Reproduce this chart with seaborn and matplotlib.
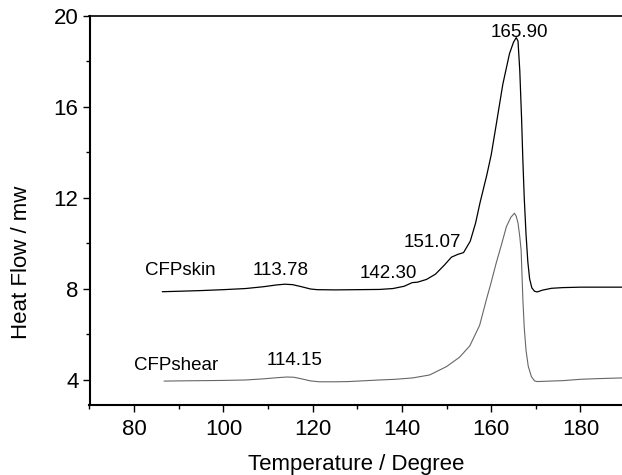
import numpy as np
import pandas as pd
import matplotlib
matplotlib.use("Agg")
import matplotlib.pyplot as plt
from matplotlib.ticker import MultipleLocator
import seaborn as sns

# ---- data ----
skin_t = [86.3, 90, 95, 100, 105, 109, 112, 113.8, 115.5, 117.5, 119.5, 121, 125, 130, 135, 138,
          140.5, 142.3, 143.5, 145.5, 147.5, 149.5, 151.1, 152.5, 153.8, 155.3, 156.5, 157.5, 159,
          160, 161.1, 162.6, 164.1, 165.0, 165.6, 166.0, 166.4, 166.8, 167.1, 167.4, 167.8, 168.2,
          168.6, 169.1, 169.7, 170.3, 171.5, 173.5, 176, 180, 184, 189.3]
skin_f = [7.88, 7.90, 7.93, 7.97, 8.02, 8.10, 8.18, 8.21, 8.19, 8.10, 8.00, 7.97, 7.96, 7.97, 7.98, 8.02,
          8.12, 8.28, 8.30, 8.42, 8.65, 9.05, 9.40, 9.52, 9.60, 10.1, 10.9, 11.8, 13.0,
          13.9, 15.2, 17.0, 18.35, 18.85, 19.05, 18.9, 17.6, 15.5, 13.6, 12.0, 10.4, 9.2,
          8.45, 8.05, 7.90, 7.87, 7.95, 8.03, 8.06, 8.08, 8.08, 8.08]

shear_t = [86.7, 90, 95, 100, 105, 109, 112, 114.2, 115.8, 117.5, 119.5, 121.5, 125, 128, 131, 135,
           138.5, 142.4, 146.2, 150, 152.9, 155.2, 157.4, 158.9, 160, 161.1, 162.3, 163.4, 164.4,
           165.2, 165.6, 166.0, 166.4, 166.7, 166.9, 167.1, 167.4, 167.8, 168.3, 169.0, 169.7,
           170.3, 173, 176, 180, 184, 189.3]
shear_f = [3.95, 3.96, 3.97, 3.98, 4.00, 4.05, 4.10, 4.13, 4.12, 4.05, 3.96, 3.92, 3.92, 3.93, 3.96, 4.00,
           4.03, 4.09, 4.22, 4.59, 5.00, 5.50, 6.40, 7.52, 8.30, 9.13, 9.95, 10.74, 11.15,
           11.33, 11.2, 10.9, 10.3, 9.7, 8.6, 7.5, 6.3, 5.3, 4.6, 4.15, 3.96,
           3.93, 3.95, 3.97, 4.03, 4.06, 4.09]

curve_labels = ["CFPskin", "CFPshear"]
peak_labels = ["113.78", "142.30", "151.07", "165.90", "114.15"]
peak_pos_x = [112.8, 137.0, 146.9, 166.4, 115.9]
peak_pos_y = [8.62, 8.48, 9.85, 19.08, 4.66]
curve_label_x = [90.3, 89.5]
curve_label_y = [8.62, 4.44]

x_ticks = [80, 100, 120, 140, 160, 180]
y_ticks = [4, 8, 12, 16, 20]

# ---- plot ----
sns.set_theme(style="ticks")
plt.rcParams["font.family"] = ["Liberation Sans", "DejaVu Sans"]

fig = plt.figure(figsize=(6.22, 4.75), dpi=100)
ax = fig.add_axes([89.5 / 622, 1 - 405 / 475, (622 - 89.5) / 622, (405 - 16) / 475])

df_skin = pd.DataFrame({"T": skin_t, "F": skin_f})
df_shear = pd.DataFrame({"T": shear_t, "F": shear_f})
sns.lineplot(data=df_skin, x="T", y="F", ax=ax, color="black", lw=0.9,
             sort=False, estimator=None)
sns.lineplot(data=df_shear, x="T", y="F", ax=ax, color="#666666", lw=0.8,
             sort=False, estimator=None)

ax.set_xlim(70, 189.3)
ax.set_ylim(2.9, 20)
ax.set_xticks(x_ticks)
ax.set_yticks(y_ticks)
ax.xaxis.set_minor_locator(MultipleLocator(10))
ax.yaxis.set_minor_locator(MultipleLocator(2))
ax.tick_params(which="major", direction="out", length=5, width=1.0, labelsize=16,
               color="black", labelcolor="black", pad=3)
ax.tick_params(which="minor", direction="out", length=3, width=1.0, color="black")
ax.tick_params(axis="x", which="major", pad=5)

for s in ["left", "bottom"]:
    ax.spines[s].set_linewidth(1.5)
    ax.spines[s].set_color("black")
ax.spines["top"].set_linewidth(1.2)
ax.spines["top"].set_color("black")
ax.spines["right"].set_visible(False)

ax.set_xlabel("Temperature / Degree", fontsize=16, labelpad=10, color="black")
ax.set_ylabel("")
fig.text(22 / 622, 1 - 262 / 475, "Heat Flow / mw", rotation=90, fontsize=16,
         ha="center", va="center", color="black")

for lbl, x, y in zip(curve_labels, curve_label_x, curve_label_y):
    ax.text(x, y, lbl, fontsize=13.5, ha="center", va="baseline", color="black")
for lbl, x, y in zip(peak_labels, peak_pos_x, peak_pos_y):
    ax.text(x, y, lbl, fontsize=13.5, ha="center", va="baseline", color="black")

fig.savefig("out.png", dpi=100)
